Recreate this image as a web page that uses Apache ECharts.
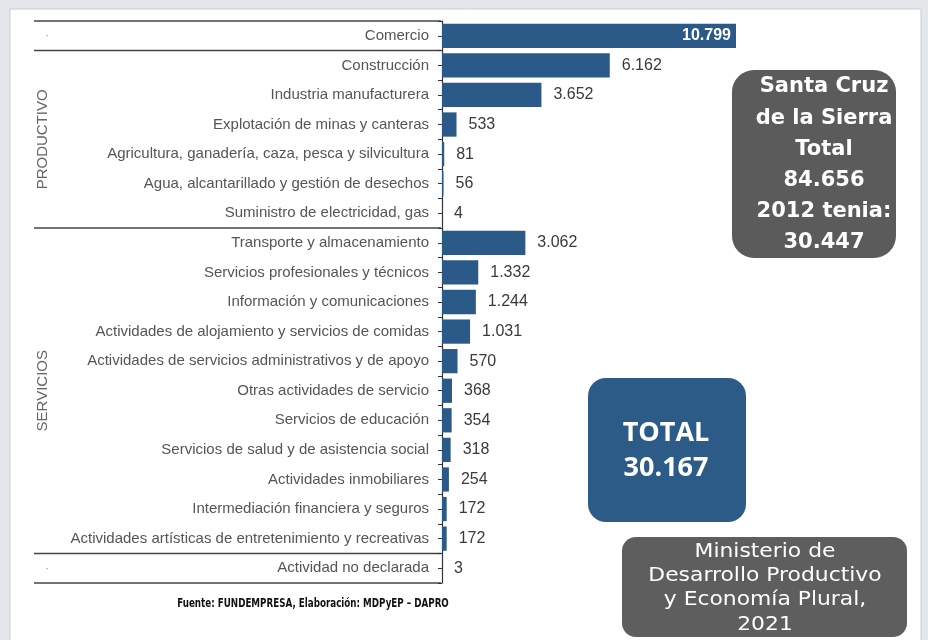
<!DOCTYPE html>
<html><head><meta charset="utf-8">
<script src="https://cdn.jsdelivr.net/npm/echarts@6/dist/echarts.min.js"></script>
<style>html,body{margin:0;padding:0;background:#e3e7eb;}#c{width:928px;height:640px;}</style>
</head><body><div id="c"></div>
<script>
const categories = ['Comercio','Construcción','Industria manufacturera','Explotación de minas y canteras','Agricultura, ganadería, caza, pesca y silvicultura','Agua, alcantarillado y gestión de desechos','Suministro de electricidad, gas','Transporte y almacenamiento','Servicios profesionales y técnicos','Información y comunicaciones','Actividades de alojamiento y servicios de comidas','Actividades de servicios administrativos y de apoyo','Otras actividades de servicio','Servicios de educación','Servicios de salud y de asistencia social','Actividades inmobiliares','Intermediación financiera y seguros','Actividades artísticas de entretenimiento y recreativas','Actividad no declarada'];
const values = [10799,6162,3652,533,81,56,4,3062,1332,1244,1031,570,368,354,318,254,172,172,3];
const groups = [
  {name:'', from:0, to:0},
  {name:'PRODUCTIVO', from:1, to:6},
  {name:'SERVICIOS', from:7, to:17},
  {name:'', from:18, to:18}
];
const fmt = v => String(v).replace(/\B(?=(\d{3})+(?!\d))/g, '.');

const chart = echarts.init(document.getElementById('c'));
const labelFont = 'Liberation Sans, Arial, sans-serif';
chart.setOption({
  backgroundColor: '#e3e7eb',
  animation: false,
  grid: {left: 442, right: 192, top: 21, height: 562},
  xAxis: {type: 'value', min: 0, max: 10799, show: false},
  yAxis: [{
    type: 'category', data: categories, inverse: true,
    axisLine: {lineStyle: {color: '#333', width: 1.2}},
    axisTick: {show: true, alignWithLabel: true, length: 4, lineStyle: {color: '#333'}},
    axisLabel: {color: '#555', fontSize: 15, fontFamily: labelFont, margin: 13}
  },{
    type: 'category', data: categories, inverse: true, position: 'left',
    axisLine: {show: false},
    axisTick: {show: true, length: 4, lineStyle: {color: '#333'}},
    axisLabel: {show: false}
  }],
  series: [{
    type: 'bar', data: values.map((v,i)=>({value:v, label: i===0 ? {position:'insideRight', color:'#fff', fontWeight:'bold', distance:5} : {}})),
    barWidth: '82%', itemStyle: {color: '#2b5a88'},
    label: {show: true, position: 'right', distance: 12, color: '#3a3a3a', fontSize: 16, fontFamily: labelFont, formatter: p => fmt(p.value)}
  }]
});

function yPix(i){ return chart.convertToPixel({yAxisIndex:0}, i); }
const step = yPix(1) - yPix(0);
const g = [];
g.push({type:'rect', z:-10, shape:{x:10, y:9, width:911, height:640}, style:{fill:'#fff', stroke:'#c8ccd0', lineWidth:1}});
const x0 = 34, x1 = 441;
const bounds = [yPix(0) - step/2];
groups.forEach(gr => bounds.push(yPix(gr.to) + step/2));
bounds.forEach(y => g.push({type:'line', shape:{x1:x0, y1:y, x2:x1, y2:y}, style:{stroke:'#444', lineWidth:1.5}}));
groups.forEach(gr => {
  const cy = (yPix(gr.from) + yPix(gr.to)) / 2;
  if (gr.name) {
    g.push({type:'text', x:43, y:cy, rotation:Math.PI/2, style:{text:gr.name, fill:'#666', fontSize:15, fontFamily:labelFont, align:'center', verticalAlign:'middle'}});
  } else {
    g.push({type:'text', x:47, y:cy, style:{text:'·', fill:'#999', fontSize:12, align:'center', verticalAlign:'middle'}});
  }
});
g.push({type:'text', x:313, y:604, scaleX:0.81, style:{text:'Fuente: FUNDEMPRESA, Elaboración: MDPyEP – DAPRO', fill:'#111', fontSize:12, fontWeight:'bold', fontFamily:'DejaVu Sans Condensed, sans-serif', align:'center', verticalAlign:'middle'}});
g.push({type:'rect', shape:{x:732, y:70, width:164, height:188, r:22}, style:{fill:'#5b5b5b'}});
['Santa Cruz','de la Sierra','Total','84.656','2012 tenia:','30.447'].forEach((t,i)=>{
  g.push({type:'text', x:824, y:87+i*31.2, style:{text:t, fill:'#fff', fontSize:21, fontWeight:'bold', fontFamily:'DejaVu Sans, sans-serif', align:'center', verticalAlign:'middle'}});
});
g.push({type:'rect', shape:{x:588, y:378, width:158, height:144, r:18}, style:{fill:'#2d5b87'}});
['TOTAL','30.167'].forEach((t,i)=>{
  g.push({type:'text', x:666, y:433+i*35, style:{text:t, fill:'#fff', fontSize:27, fontWeight:'bold', fontFamily:'Open Sans, sans-serif', align:'center', verticalAlign:'middle'}});
});
g.push({type:'rect', shape:{x:622, y:537, width:285, height:100, r:14}, style:{fill:'#5e5e5e'}});
['Ministerio de','Desarrollo Productivo','y Economía Plural,','2021'].forEach((t,i)=>{
  g.push({type:'text', x:765, y:552+i*24.2, scaleX:1.15, style:{text:t, fill:'#fff', fontSize:19, fontFamily:'DejaVu Sans, sans-serif', align:'center', verticalAlign:'middle'}});
});
chart.setOption({graphic: g});
</script></body></html>
